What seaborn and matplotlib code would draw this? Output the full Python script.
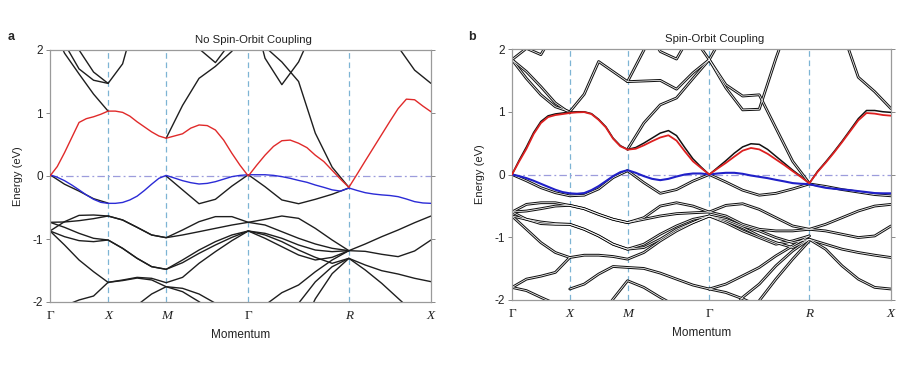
import numpy as np
import matplotlib
matplotlib.use("Agg")
import matplotlib.pyplot as plt
import seaborn as sns

N = float("nan")

# momentum sample grid along path Γ-X-M-Γ-R-X
K = [0.0, 0.125, 0.25, 0.375, 0.5, 0.625, 0.75, 0.875, 1.0,
     1.141, 1.283, 1.424, 1.566, 1.707,
     1.851, 1.996, 2.140, 2.284, 2.429, 2.573,
     2.714, 2.856, 2.997, 3.139, 3.28]
# finer grid used for the highlighted (red / blue) bands
K_FINE = [0.0, 0.0625, 0.125, 0.1875, 0.25, 0.3125, 0.375, 0.4375, 0.5,
          0.5625, 0.625, 0.6875, 0.75, 0.8125, 0.875, 0.9375, 1.0,
          1.0707, 1.141, 1.212, 1.283, 1.354, 1.424, 1.495, 1.566, 1.636, 1.707,
          1.779, 1.851, 1.924, 1.996, 2.068, 2.140, 2.212, 2.284, 2.357, 2.429, 2.501, 2.573,
          2.644, 2.714, 2.785, 2.856, 2.927, 2.997, 3.068, 3.139, 3.210, 3.28]
K_TICKS = [0.0, 0.5, 1.0, 1.707, 2.573, 3.28]
K_LABELS = ["Γ", "X", "M", "Γ", "R", "X"]
Y_TICKS = [2, 1, 0, -1, -2]

# ---------------- panel a : no SOC ----------------
A_RED = [0.0, 0.15, 0.37, 0.61, 0.85, 0.91, 0.94, 0.98, 1.03,
         1.03, 1.01, 0.95, 0.86, 0.78, 0.70, 0.635, 0.60,
         0.635, 0.67, 0.76, 0.81, 0.80, 0.73, 0.57, 0.36, 0.17, 0.0,
         0.17, 0.33, 0.47, 0.56, 0.57, 0.52, 0.45, 0.33, 0.23, 0.09, -0.05, -0.18,
         0.03, 0.24, 0.45, 0.66, 0.87, 1.07, 1.22, 1.21, 1.11, 1.02]
A_BLUE = [0.02, -0.02, -0.074, -0.143, -0.22, -0.30, -0.37, -0.418, -0.434,
          -0.434, -0.42, -0.38, -0.32, -0.23, -0.13, -0.037, 0.01,
          -0.032, -0.074, -0.106, -0.127, -0.117, -0.09, -0.05, -0.01, 0.01, 0.02,
          0.02, 0.02, 0.01, -0.01, -0.037, -0.07, -0.10, -0.143, -0.18, -0.22, -0.24, -0.19,
          -0.23, -0.265, -0.286, -0.30, -0.31, -0.328, -0.365, -0.407, -0.428, -0.434]
A_U1 = [2.45, 1.95, 1.62, 1.30, 1.03] + [N] * 20
A_U2 = [2.8, 2.1, 1.70, 1.52, 1.47, 1.78, 2.6] + [N] * 18
A_U3 = [3.0, 2.5, 2.0, 1.65, 1.47] + [N] * 20
A_U4 = [N] * 8 + [0.60, 1.12, 1.55, 1.74, 1.98, 2.4] + [N] * 11
A_U5 = [N] * 8 + [2.6, 2.3, 2.02, 1.80, 2.15, 2.6] + [N] * 11
A_U6 = [N] * 13 + [2.9, 1.87, 1.45, 1.81, 2.4] + [N] * 7
A_U7 = [N] * 13 + [2.6, 2.05, 1.81, 1.50, 0.68, 0.14, -0.18] + [N] * 5
A_U8 = [N] * 19 + [3.2, 2.8, 2.5, 2.05, 1.68, 1.47]
A_L1 = [0.02, -0.13, -0.24, -0.36, -0.43] + [N] * 20
A_L2 = [N] * 8 + [0.0, -0.22, -0.44, -0.37, -0.16, 0.02, -0.17, -0.38, -0.44, -0.37, -0.29, -0.19] + [N] * 5
A_LA = [-0.735, -0.730, -0.709, -0.677, -0.635, -0.698, -0.815, -0.936, -0.979,
        -0.857, -0.725, -0.645, -0.645, -0.735, -0.688, -0.635, -0.672, -0.831, -1.016, -1.185,
        -1.079, -0.963, -0.857, -0.741, -0.635]
A_LB = [-0.873, -0.725, -0.625, -0.619, -0.635, -0.698, -0.815, -0.936, -0.979,
        -0.936, -0.884, -0.831, -0.778, -0.735, -0.778, -0.884, -0.989, -1.079, -1.148, -1.185,
        -1.196, -1.243, -1.280, -1.190, -1.016]
A_LC = [-0.735, -0.815, -0.910, -0.989, -1.016, -1.148, -1.307, -1.439, -1.481,
        -1.333, -1.175, -1.042, -0.936, -0.873, -0.936, -1.042, -1.175, -1.291, -1.386, -1.307,
        -1.413, -1.503, -1.556, -1.624, -1.677]
A_LD = [-0.873, -0.963, -1.026, -1.042, -1.016, -1.148, -1.307, -1.439, -1.481,
        -1.376, -1.228, -1.095, -0.974, -0.873, -0.989, -1.122, -1.254, -1.333, -1.291, -1.185] + [N] * 5
A_LE = [-0.873, -1.095, -1.333, -1.519, -1.688, -1.651, -1.609, -1.624, -1.693,
        -1.609, -1.386, -1.201, -1.026, -0.873, -0.910, -0.989, -1.095, -1.175, -1.201, -1.185] + [N] * 5
A_LF = [-2.3, -2.06, -1.968, -1.905, -1.688, -1.66, -1.62, -1.65, -1.757, -1.783, -1.873, -2.02, -2.2] + [N] * 12
A_LR = [N] * 6 + [-2.05, -1.873, -1.757, -1.836, -1.995, -2.18] + [N] * 13
A_LK = [N] * 13 + [-2.3, -2.05, -1.852, -1.73, -1.52, -1.333, -1.185] + [N] * 5
A_LL = [N] * 15 + [-2.6, -2.02, -1.68, -1.44, -1.307, -1.492, -1.704, -1.942, -2.18, -2.4]
A_LM = [N] * 16 + [-2.5, -1.95, -1.55, -1.307] + [N] * 5

# ---------------- panel b : SOC ----------------
B_RED = [0.0, 0.21, 0.41, 0.645, 0.82, 0.915, 0.947, 0.963, 0.98,
         0.99, 0.994, 0.963, 0.87, 0.75, 0.57, 0.45, 0.396,
         0.41, 0.465, 0.53, 0.59, 0.625, 0.54, 0.37, 0.21, 0.105, 0.0,
         0.095, 0.185, 0.285, 0.38, 0.423, 0.40, 0.33, 0.24, 0.15, 0.053, -0.04, -0.14,
         0.04, 0.186, 0.345, 0.514, 0.69, 0.863, 0.98, 0.97, 0.948, 0.937]
B_REDP = [0.0, 0.23, 0.44, 0.67, 0.845, 0.935, 0.965, 0.98, 0.995,
          1.0, 1.0, 0.97, 0.88, 0.76, 0.58, 0.46, 0.40,
          0.43, 0.50, 0.58, 0.66, 0.70, 0.62, 0.43, 0.25, 0.12, 0.0,
          0.11, 0.22, 0.34, 0.44, 0.49, 0.48, 0.40, 0.29, 0.18, 0.07, -0.03, -0.14,
          0.05, 0.20, 0.36, 0.53, 0.71, 0.89, 1.02, 1.02, 1.00, 0.99]
B_BLUE = [0.0, -0.026, -0.058, -0.10, -0.148, -0.196, -0.243, -0.28, -0.30,
          -0.307, -0.296, -0.249, -0.185, -0.106, -0.026, 0.037, 0.069,
          0.027, -0.026, -0.069, -0.09, -0.069, -0.032, 0.0, 0.016, 0.016, 0.0,
          0.016, 0.027, 0.027, 0.011, -0.016, -0.037, -0.058, -0.085, -0.11, -0.137, -0.148, -0.153,
          -0.185, -0.212, -0.227, -0.238, -0.249, -0.265, -0.28, -0.296, -0.30, -0.30]
B_L1 = [0.0, -0.10, -0.21, -0.29, -0.34, -0.33, -0.23, -0.05, 0.06] + [N] * 16
B_L2 = [N] * 8 + [0.06, -0.13, -0.30, -0.24, -0.105, 0.0, -0.12, -0.25, -0.33, -0.30, -0.23, -0.15,
                  -0.19, -0.24, -0.28, -0.32, -0.34]
B_U1 = [1.83, 1.53, 1.27, 1.08, 1.0, 1.28, 1.80, 1.64, 1.48, 1.49, 1.50, 1.36, 1.62, 1.83,
        1.38, 1.03, 1.04, 1.85, 2.6] + [N] * 6
B_U2 = [1.83, 1.64, 1.40, 1.14, 0.98] + [N] * 20
B_U3 = [1.83, 2.01, 1.91, 2.3] + [N] * 21
B_U4 = [N] * 8 + [0.40, 0.82, 1.11, 1.22, 1.53, 1.83] + [N] * 11
B_U5 = [N] * 8 + [1.48, 1.98, 2.5] + [N] * 14
B_U6 = [N] * 9 + [2.4, 1.96, 1.84, 2.3] + [N] * 12
B_U7 = [N] * 13 + [1.83, 1.43, 1.25, 1.27, 0.74, 0.21, -0.14] + [N] * 5
B_U8 = [N] * 13 + [1.83, 2.3] + [N] * 10
B_U9 = [N] * 19 + [3.2, 2.7, 2.3, 1.55, 1.32, 1.05]
B_U10 = [N] * 12 + [2.2, 1.83] + [N] * 11
B_LA = [-0.598, -0.476, -0.450, -0.450, -0.492, -0.545, -0.635, -0.714, -0.767,
        -0.688, -0.503, -0.450, -0.503, -0.598, -0.492, -0.466, -0.556, -0.688, -0.820, -0.873,
        -0.794, -0.688, -0.582, -0.503, -0.476]
B_LB = [-0.598, -0.582, -0.545, -0.503, -0.492, -0.545, -0.635, -0.714, -0.767,
        -0.714, -0.661, -0.624, -0.610, -0.598, -0.661, -0.794, -0.873, -0.899, -0.899, -0.873,
        -0.899, -0.952, -1.005, -0.979, -0.820]
B_LC = [-0.661, -0.714, -0.757, -0.783, -0.794, -0.873, -0.979, -1.111, -1.190,
        -1.111, -0.952, -0.820, -0.714, -0.661, -0.714, -0.820, -0.899, -1.005, -1.085, -1.032,
        -1.111, -1.190, -1.243, -1.286, -1.323]
B_LD = [-0.598, -0.714, -0.783, -0.794, -0.794, -0.873, -0.979, -1.111, -1.190,
        -1.164, -1.032, -0.873, -0.767, -0.661, -0.767, -0.899, -1.005, -1.111, -1.058, -0.979] + [N] * 5
B_LE = [-0.661, -0.873, -1.085, -1.243, -1.323, -1.286, -1.286, -1.307, -1.349,
        -1.243, -1.058, -0.899, -0.767, -0.661, -0.741, -0.846, -0.979, -1.085, -1.164, -1.032] + [N] * 5
B_LF = [-1.80, -1.667, -1.62, -1.56, -1.323] + [N] * 20
B_LG = [-1.80, -1.85, -1.958, -2.06, -2.2] + [N] * 20
B_LH = [N] * 4 + [-1.825, -1.746, -1.587, -1.466, -1.481, -1.497, -1.571, -1.667, -1.762, -1.825] + [N] * 11
B_LI = [N] * 6 + [-2.3, -1.984, -1.693, -1.799, -1.958, -2.1] + [N] * 13
B_LJ = [N] * 14 + [-2.3, -1.958, -1.746, -1.455, -1.217, -1.032] + [N] * 5
B_LK = [N] * 15 + [-2.4, -2.01, -1.667, -1.349, -1.058] + [N] * 5
B_LL = [N] * 19 + [-1.032, -1.19, -1.455, -1.667, -1.799, -1.825]
B_LM = [N] * 13 + [-1.825, -1.746, -1.614, -1.481, -1.296, -1.137, -0.979] + [N] * 5
B_LN = [N] * 13 + [-1.825, -1.88, -1.98, -2.1] + [N] * 8

A_BLACK = [A_U1, A_U2, A_U3, A_U4, A_U5, A_U6, A_U7, A_U8, A_L1, A_L2,
           A_LA, A_LB, A_LC, A_LD, A_LE, A_LF, A_LR, A_LK, A_LL, A_LM]
B_BLACK = [B_U1, B_U2, B_U3, B_U4, B_U5, B_U6, B_U7, B_U8, B_U9, B_U10, B_L1, B_L2,
           B_LA, B_LB, B_LC, B_LD, B_LE, B_LF, B_LG, B_LH, B_LI, B_LJ, B_LK, B_LL, B_LM, B_LN]

# ---------------- drawing ----------------
sns.set_style("white")
plt.rcParams["font.family"] = ["Liberation Sans", "DejaVu Sans"]

fig = plt.figure(figsize=(9.0, 3.7), dpi=100)
ax_a = fig.add_axes([50 / 900, 68 / 370, 381 / 900, 252 / 370])
ax_b = fig.add_axes([512 / 900, 70 / 370, 379 / 900, 251 / 370])


def segments(kvals, vals):
    kk = np.array(kvals, dtype=float)
    v = np.array(vals, dtype=float)
    ok = ~np.isnan(v)
    segs, start = [], None
    for i, good in enumerate(ok):
        if good and start is None:
            start = i
        if (not good or i == len(ok) - 1) and start is not None:
            end = i + 1 if good else i
            if end - start >= 2:
                segs.append((kk[start:end], v[start:end]))
            start = None
    return segs


def draw(ax, vals, color, lw, z, kvals=K):
    for x, y in segments(kvals, vals):
        sns.lineplot(x=x, y=y, ax=ax, color=color, lw=lw, sort=False,
                     estimator=None, zorder=z, legend=False)


def style_axes(ax, title):
    for kx in K_TICKS[1:-1]:
        ax.axvline(kx, color="#7db4d4", lw=0.9, ls=(0, (4.5, 3)), zorder=1)
    ax.axhline(0, color="#9c9cdc", lw=0.9, ls=(0, (6, 2.5, 1.5, 2.5)), zorder=1)
    ax.set_xlim(K_TICKS[0], K_TICKS[-1])
    ax.set_ylim(-2, 2)
    ax.set_yticks(Y_TICKS)
    ax.set_yticklabels([str(t) for t in Y_TICKS], fontsize=8.5, color="#222222")
    ax.set_xticks(K_TICKS)
    ax.set_xticklabels(K_LABELS)
    for lab, txt in zip(ax.get_xticklabels(), K_LABELS):
        lab.set_fontfamily(["Liberation Serif", "DejaVu Serif"])
        lab.set_fontsize(9.5)
        lab.set_color("#222222")
        if txt != "Γ":
            lab.set_fontstyle("italic")
    ax.tick_params(axis="x", length=0, pad=6)
    ax.tick_params(axis="y", direction="out", length=3, width=0.7, color="#888888",
                   right=True, left=True, pad=2)
    for s in ax.spines.values():
        s.set_color("#9a9a9a")
        s.set_linewidth(0.9)
    ax.set_xlabel("Momentum", fontsize=8.5, labelpad=5, color="#222222")
    ax.set_ylabel("Energy (eV)", fontsize=8, labelpad=7, color="#222222")
    ax.set_title(title, fontsize=8.2, pad=5, color="#222222", x=0.535)


style_axes(ax_a, "No Spin-Orbit Coupling")
style_axes(ax_b, "Spin-Orbit Coupling")

for band in A_BLACK:
    draw(ax_a, band, "#1e1e1e", 1.0, 2)
draw(ax_a, A_BLUE, "#2b2bd6", 1.0, 3, K_FINE)
draw(ax_a, A_RED, "#e02a2a", 1.0, 4, K_FINE)

for band in B_BLACK:
    draw(ax_b, band, "#111111", 2.0, 2)
for band in B_BLACK:
    draw(ax_b, band, "white", 0.55, 2.5)
draw(ax_b, B_REDP, "#111111", 1.1, 3, K_FINE)
draw(ax_b, B_BLUE, "#2020c8", 1.5, 4, K_FINE)
draw(ax_b, B_RED, "#dd2020", 1.3, 4, K_FINE)

fig.text(8 / 900, 1 - 37 / 370, "a", fontsize=9, fontweight="bold", va="center")
fig.text(468 / 900, 1 - 37 / 370, "b", fontsize=9, fontweight="bold", va="center")

fig.savefig("out.png", dpi=100)
